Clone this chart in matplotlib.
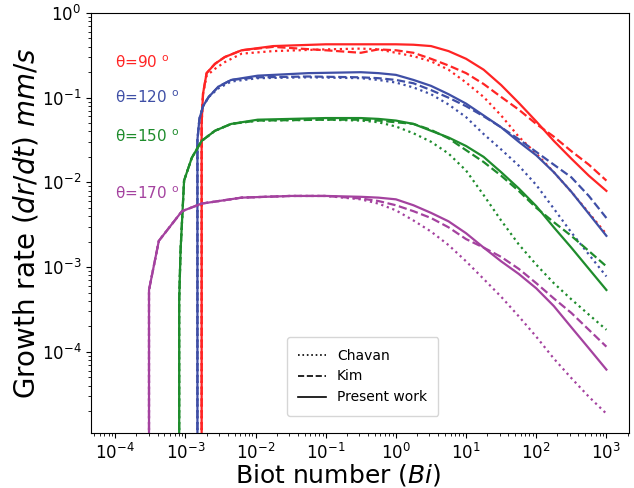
import matplotlib
matplotlib.use("Agg")
import matplotlib.pyplot as plt
from matplotlib.lines import Line2D

# Values below the visible range make the onset show as a vertical rise.
# ---------------- theta = 90 deg ----------------
bi_90 = [1.70e-3, 1.70e-3, 1.78e-3, 2.00e-3, 2.63e-3, 3.63e-3, 6.31e-3, 1.78e-2,
         0.1, 0.316, 0.562, 1.0, 1.78, 3.16, 5.62, 10, 17.8, 31.6, 56.2, 100,
         178, 316, 562, 1000]
present_90 = [1e-7, 0.0501, 0.112, 0.195, 0.251, 0.302, 0.363, 0.407,
              0.427, 0.427, 0.427, 0.427, 0.422, 0.407, 0.355, 0.288, 0.214,
              0.141, 0.0871, 0.0525, 0.0309, 0.0191, 0.0120, 7.94e-3]
kim_90 = [1e-7, 0.0501, 0.112, 0.195, 0.251, 0.302, 0.363, 0.398,
          0.363, 0.339, 0.372, 0.363, 0.339, 0.288, 0.240, 0.195, 0.145,
          0.102, 0.0724, 0.0490, 0.0347, 0.0234, 0.0162, 0.0105]
chavan_90 = [1e-7, 0.0501, 0.112, 0.182, 0.219, 0.263, 0.331, 0.355,
             0.372, 0.380, 0.372, 0.339, 0.309, 0.269, 0.214, 0.151, 0.102,
             0.0617, 0.0347, 0.0219, 0.0132, 7.76e-3, 4.37e-3, 2.45e-3]

# ---------------- theta = 120 deg ----------------
bi_120 = [1.48e-3, 1.48e-3, 1.58e-3, 1.78e-3, 2.14e-3, 2.95e-3, 4.47e-3, 1.07e-2,
          5.62e-2, 0.316, 0.562, 1.0, 1.78, 3.16, 5.62, 10, 17.8, 31.6, 56.2,
          100, 178, 316, 562, 1000]
present_120 = [1e-7, 0.0316, 0.0562, 0.0794, 0.102, 0.135, 0.162, 0.182,
               0.195, 0.200, 0.195, 0.186, 0.162, 0.138, 0.110, 0.0851, 0.0617,
               0.0447, 0.0302, 0.0209, 0.0132, 7.76e-3, 4.27e-3, 2.34e-3]
kim_120 = [1e-7, 0.0316, 0.0562, 0.0794, 0.102, 0.135, 0.162, 0.174,
           0.178, 0.174, 0.170, 0.162, 0.148, 0.123, 0.100, 0.0794, 0.0603,
           0.0447, 0.0324, 0.0229, 0.0162, 0.0115, 6.92e-3, 3.80e-3]
chavan_120 = [1e-7, 0.0316, 0.0562, 0.0794, 0.102, 0.129, 0.155, 0.170,
              0.174, 0.170, 0.162, 0.151, 0.132, 0.110, 0.0832, 0.0589, 0.0372,
              0.0245, 0.0158, 9.33e-3, 4.90e-3, 2.57e-3, 1.41e-3, 7.76e-4]

# ---------------- theta = 150 deg ----------------
bi_150 = [8.13e-4, 8.13e-4, 8.51e-4, 9.55e-4, 1.23e-3, 1.70e-3, 2.63e-3, 4.47e-3,
          1.07e-2, 0.1, 0.316, 0.562, 1.0, 1.78, 3.16, 5.62, 10, 17.8, 31.6,
          56.2, 100, 178, 316, 562, 1000]
present_150 = [1e-7, 3.98e-4, 1.58e-3, 0.0105, 0.0195, 0.0309, 0.0407, 0.0490,
               0.0550, 0.0575, 0.0575, 0.0562, 0.0537, 0.0490, 0.0407, 0.0339,
               0.0269, 0.0200, 0.0132, 8.51e-3, 5.25e-3, 2.95e-3, 1.70e-3,
               9.55e-4, 5.37e-4]
kim_150 = [1e-7, 3.98e-4, 1.58e-3, 0.0105, 0.0195, 0.0309, 0.0407, 0.0490,
           0.0537, 0.0550, 0.0550, 0.0537, 0.0513, 0.0490, 0.0417, 0.0331,
           0.0240, 0.0174, 0.0120, 7.94e-3, 5.01e-3, 3.39e-3, 2.34e-3,
           1.55e-3, 1.02e-3]
chavan_150 = [1e-7, 3.98e-4, 1.58e-3, 0.0105, 0.0195, 0.0309, 0.0407, 0.0490,
              0.0537, 0.0550, 0.0537, 0.0513, 0.0457, 0.0380, 0.0302, 0.0219,
              0.0138, 7.08e-3, 3.55e-3, 1.86e-3, 1.07e-3, 6.46e-4, 4.17e-4,
              2.75e-4, 1.82e-4]

# ---------------- theta = 170 deg ----------------
bi_170 = [3.02e-4, 3.02e-4, 4.17e-4, 8.91e-4, 1.70e-3, 6.31e-3, 3.16e-2, 0.1,
          0.316, 0.562, 1.0, 1.78, 3.16, 5.62, 10, 17.8, 31.6, 56.2, 100,
          178, 316, 562, 1000]
present_170 = [1e-7, 5.37e-4, 2.04e-3, 4.57e-3, 5.62e-3, 6.61e-3, 6.92e-3,
               6.92e-3, 6.76e-3, 6.61e-3, 6.31e-3, 5.37e-3, 4.37e-3, 3.47e-3,
               2.51e-3, 1.70e-3, 1.17e-3, 8.32e-4, 5.62e-4, 3.47e-4, 1.95e-4,
               1.10e-4, 6.17e-5]
kim_170 = [1e-7, 5.37e-4, 2.04e-3, 4.57e-3, 5.62e-3, 6.61e-3, 6.92e-3,
           6.92e-3, 6.46e-3, 6.03e-3, 5.37e-3, 4.57e-3, 3.80e-3, 2.95e-3,
           2.14e-3, 1.70e-3, 1.32e-3, 9.55e-4, 6.46e-4, 4.27e-4, 2.88e-4,
           1.82e-4, 1.15e-4]
chavan_170 = [1e-7, 5.37e-4, 2.04e-3, 4.57e-3, 5.62e-3, 6.61e-3, 6.92e-3,
              6.92e-3, 6.31e-3, 5.62e-3, 4.68e-3, 3.55e-3, 2.63e-3, 1.82e-3,
              1.17e-3, 7.24e-4, 4.47e-4, 2.63e-4, 1.51e-4, 8.32e-5, 4.90e-5,
              2.95e-5, 1.86e-5]

angle_labels = ["θ=90 $^\\mathrm{o}$", "θ=120 $^\\mathrm{o}$",
                "θ=150 $^\\mathrm{o}$", "θ=170 $^\\mathrm{o}$"]
label_y = [0.26, 0.10, 0.035, 7.4e-3]
colors = ["#ff2424", "#3f4fa6", "#1e8c2c", "#a4429f"]
model_names = ["Chavan", "Kim", "Present work"]
x_major = [1e-4, 1e-3, 1e-2, 1e-1, 1e0, 1e1, 1e2, 1e3]
y_major = [1e-4, 1e-3, 1e-2, 1e-1, 1e0]

series = [
    (bi_90, chavan_90, kim_90, present_90),
    (bi_120, chavan_120, kim_120, present_120),
    (bi_150, chavan_150, kim_150, present_150),
    (bi_170, chavan_170, kim_170, present_170),
]
styles = [":", "--", "-"]

fig = plt.figure(figsize=(6.34, 4.88), dpi=100)
ax = fig.add_axes([91 / 634, 1 - 433 / 488, (629 - 91) / 634, (433 - 13) / 488])

for (bi, chavan, kim, present), col in zip(series, colors):
    for vals, ls in zip((chavan, kim, present), styles):
        ax.plot(bi, vals, ls=ls, color=col, lw=1.6)

ax.set_xscale("log")
ax.set_yscale("log")
ax.set_xticks(x_major)
ax.set_yticks(y_major)
ax.set_xlim(4.5e-5, 2.1e3)
ax.set_ylim(1.1e-5, 1.0)

for txt, yv, col in zip(angle_labels, label_y, colors):
    ax.text(1.0e-4, yv, txt, color=col, fontsize=11, va="center", ha="left")

ax.tick_params(labelsize=12)
ax.set_xlabel("Biot number ($Bi$)", fontsize=18)
ax.xaxis.set_label_coords(0.46, -0.068, transform=ax.transAxes)
ax.xaxis.label.set_va("top")
ax.set_ylabel("Growth rate ($dr/dt$) $mm/s$", fontsize=20, labelpad=1)

handles = [Line2D([], [], color="black", ls=ls, lw=1.2) for ls in styles]
ax.legend(handles, model_names, loc="lower center", bbox_to_anchor=(0.505, 0.025),
          fontsize=10, handlelength=2.0, borderpad=0.8)

fig.savefig("out.png", dpi=100)
